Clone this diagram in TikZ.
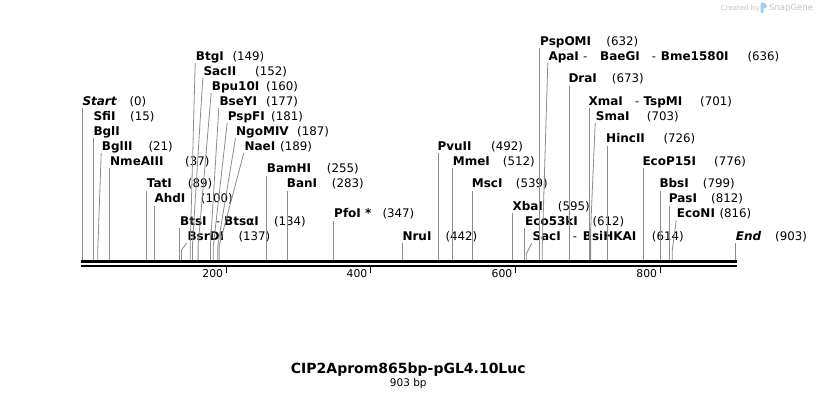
\documentclass[tikz,border=0pt]{standalone}
\usepackage{fontspec}
\setmainfont{DejaVu Sans}
\usetikzlibrary{calc}
\definecolor{cn}{RGB}{140,140,140}
\definecolor{logogray}{RGB}{195,195,195}
\definecolor{logoblue}{RGB}{165,205,240}
\newcommand\fsz[1]{\fontsize{#1}{#1}\selectfont}
% vertical label: id, labelx, base, sitex, name, numx, num
\newcommand\vlab[7]{%
  \node[lab] (L#1) at (#2,#3) {#5};
  \node[num] (N#1) at (#6,#3) {#7};
  \coordinate (S#1) at (#4,260);
  \coordinate (T#1) at ($(L#1.base west)+(0,3)$);
  \draw[cnl] (S#1 |- T#1) -- (S#1);
}
% slanted label: id, labelx, base, sitex, name, numx, num, bend y
\newcommand\slab[8]{%
  \node[lab] (L#1) at (#2,#3) {#5};
  \node[num] (N#1) at (#6,#3) {#7};
  \coordinate (S#1) at (#4,260);
  \coordinate (B#1) at (#4,#8);
  \draw[cnl] ($(L#1.base west)+(-0.5,3)$) -- (B#1) -- (S#1);
}
\begin{document}
\begin{tikzpicture}[x=1pt,y=-1pt,
  lab/.style={inner sep=0pt,anchor=base west,font=\bfseries\fsz{12}},
  num/.style={inner sep=0pt,anchor=base west,font=\fsz{11.8}},
  sep/.style={inner sep=0pt,anchor=base west,font=\fsz{11.5}},
  cnl/.style={draw=cn,line width=0.8pt},
  tick/.style={inner sep=0pt,anchor=base east,font=\fsz{10.8}}]
\useasboundingbox[fill=white] (0,0) rectangle (818,400);

% backbone
\coordinate (bbL) at (81,261.5);
\coordinate (bbR) at (736.5,261.5);
\draw[line width=3pt] (bbL) -- (bbR);
\coordinate (bbL2) at (81,265.8);
\coordinate (bbR2) at (736.5,265.8);
\draw[line width=1.6pt] (bbL2) -- (bbR2);

% ticks
\foreach \x/\t in {226.3/200,370.5/400,515.5/600,660.3/800}{
  \draw[line width=1.5pt] (\x,266) -- (\x,272.5);
  \node[tick] (tk\t) at (\x-3,277) {\t};
}

% left group
\vlab{start}{82.3}{105}{82.5}{\textit{Start}}{129.3}{(0)}
\node[lab] (Lsfi) at (93.3,120) {SfiI};
\node[num] (Nsfi) at (130,120) {(15)};
\node[lab] (Lbgl) at (93.3,135) {BglI};
\coordinate (Sbgl) at (93.3,260);
\draw[cnl] (Sbgl |- 0,138) -- (Sbgl);
\slab{bglii}{101.7}{150}{97.7}{BglII}{148.3}{(21)}{252}
\vlab{nme}{110}{165}{109.2}{NmeAIII}{185}{(37)}
\vlab{tat}{146.7}{187.5}{146.8}{TatI}{187.7}{(89)}
\vlab{ahd}{154.3}{202.5}{154.8}{AhdI}{200.7}{(100)}
\vlab{bts}{180}{225}{179.4}{BtsI}{273.8}{(134)}
\node[sep] (Dbts) at (215.7,225) {-};
\node[lab] (Lbtsa) at (224,225) {BtsαI};
\slab{bsrd}{187.3}{240}{181.5}{BsrDI}{238.3}{(137)}{250}
\slab{btg}{195.7}{60}{190.2}{BtgI}{232.3}{(149)}{246}
\slab{sacii}{203.3}{75}{192.4}{SacII}{255}{(152)}{246}
\slab{bpu}{211.7}{90}{198.1}{Bpu10I}{266}{(160)}{246}
\slab{bsey}{219.3}{105}{210.4}{BseYI}{266}{(177)}{246}
\slab{pspf}{227.7}{120}{213.3}{PspFI}{271}{(181)}{246}
\slab{ngo}{236}{135}{217.7}{NgoMIV}{297}{(187)}{246}
\slab{nae}{244.3}{150}{219.1}{NaeI}{280}{(189)}{246}
\vlab{bam}{266.7}{172.5}{266.8}{BamHI}{326.7}{(255)}
\vlab{ban}{286.7}{187.5}{287}{BanI}{331.7}{(283)}
\vlab{pfo}{334}{217.5}{333.3}{PfoI *}{382.3}{(347)}
\vlab{nru}{402.3}{240}{402}{NruI}{445.3}{(442)}

% right group
\vlab{pvu}{437.3}{150}{438.1}{PvuII}{491}{(492)}
\vlab{mme}{452.7}{165}{452.6}{MmeI}{502.7}{(512)}
\vlab{msc}{471.7}{187.5}{472.1}{MscI}{515.7}{(539)}
\vlab{xba}{512.3}{210}{512.6}{XbaI}{557.7}{(595)}
\vlab{ecok}{525}{225}{524.8}{Eco53kI}{592.3}{(612)}
\slab{saci}{532.3}{240}{526.3}{SacI}{651.7}{(614)}{254}
\node[sep] (Dsaci) at (572.7,240) {-};
\node[lab] (Lbsih) at (582.7,240) {BsiHKAI};
\vlab{pspo}{540}{45}{539.3}{PspOMI}{606.2}{(632)}
\slab{apa}{548.3}{60}{542.2}{ApaI}{747.3}{(636)}{248}
\node[sep] (Dapa) at (583,60) {-};
\node[lab] (Lbae) at (600,60) {BaeGI};
\node[sep] (Dbae) at (651.7,60) {-};
\node[lab] (Lbme) at (660.7,60) {Bme1580I};
\vlab{dra}{568.3}{82.5}{568.9}{DraI}{611.7}{(673)}
\vlab{xma}{588.3}{105}{589.2}{XmaI}{700}{(701)}
\node[sep] (Dxma) at (635,105) {-};
\node[lab] (Ltsp) at (643.3,105) {TspMI};
\slab{sma}{595.7}{120}{590.6}{SmaI}{646.7}{(703)}{230}
\vlab{hinc}{606}{142.5}{607.3}{HincII}{663.3}{(726)}
\vlab{ecop}{642.3}{165}{643.4}{EcoP15I}{714}{(776)}
\vlab{bbs}{659.3}{187.5}{660}{BbsI}{702.7}{(799)}
\vlab{pas}{668.7}{202.5}{669.4}{PasI}{711}{(812)}
\slab{econ}{676.7}{217.5}{672.3}{EcoNI}{719.3}{(816)}{250}
\vlab{end}{735.7}{240}{735.2}{\textit{End}}{775}{(903)}

% title
\node[inner sep=0pt,anchor=base,font=\bfseries\fsz{14}] (title) at (408.3,373.3) {CIP2Aprom865bp-pGL4.10Luc};
\node[inner sep=0pt,anchor=base,font=\fsz{10.5}] (len) at (408.3,386.7) {903 bp};

% watermark
\node[inner sep=0pt,anchor=base west,font=\fsz{7},text=logogray] (cby) at (720.7,10) {Created by};
\fill[logoblue,rounded corners=1pt] (760.5,2.5) rectangle (763.5,13);
\fill[logoblue,rounded corners=1.5pt] (760.5,2.5) -- (766.5,3.5) -- (766.5,8) -- (763.5,9) -- cycle;
\node[inner sep=0pt,anchor=base west,font=\fsz{8.5},text=logogray] (sg) at (769,10.5) {SnapGene};
\end{tikzpicture}
\end{document}
